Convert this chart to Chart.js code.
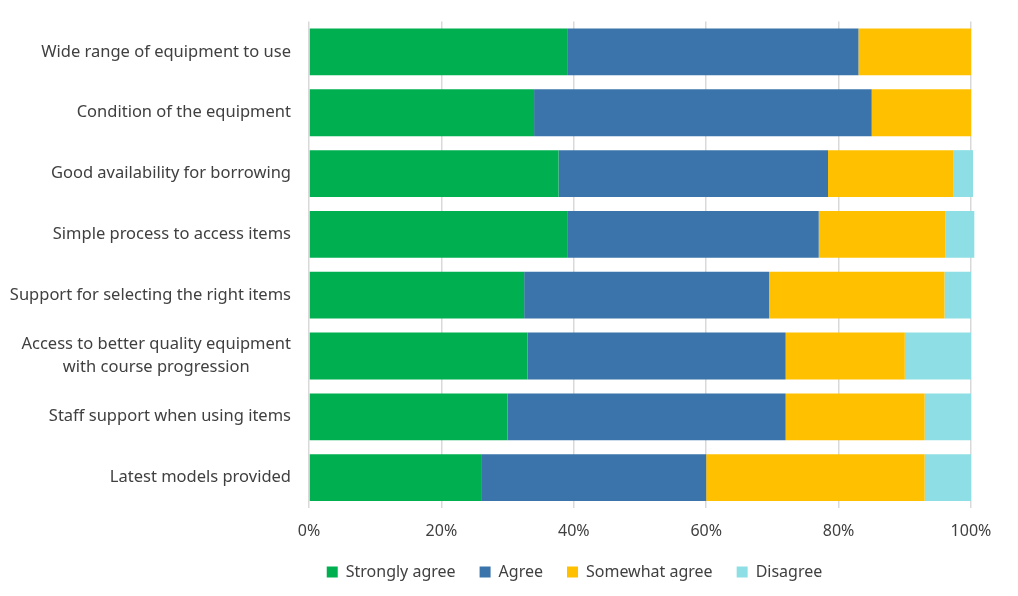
<!DOCTYPE html>
<html>
<head>
<meta charset="utf-8">
<script src="https://cdn.jsdelivr.net/npm/chart.js@4"></script>
<style>
  html, body { margin: 0; padding: 0; background: #fff; }
  #wrap { width: 1018px; height: 596px; }
</style>
</head>
<body>
<div id="wrap"><canvas id="surveyChart"></canvas></div>
<script>
const categories = [
  'Wide range of equipment to use',
  'Condition of the equipment',
  'Good availability for borrowing',
  'Simple process to access items',
  'Support for selecting the right items',
  ['Access to better quality equipment', 'with course progression\u2002\u2002\u2002\u2002\u2002'],
  'Staff support when using items',
  'Latest models provided'
];
const stronglyAgree = [39, 34, 37.7, 39, 32.5, 33, 30, 26];
const agree = [44, 51, 40.7, 38, 37, 39, 42, 34];
const somewhatAgree = [17, 15, 18.9, 19.1, 26.5, 18, 21, 33];
const disagree = [0, 0, 3, 4.4, 4, 10, 7, 7];
const xTicks = [0, 20, 40, 60, 80, 100];

const textColor = '#404040';
const fontFamily = '"Noto Sans", sans-serif';

// the legend in the reference sits a bit right of centre
const legendShift = {
  id: 'legendShift',
  afterLayout(chart) {
    const lg = chart.legend;
    if (!lg) return;
    lg.left += 93;
    lg.right += 93;
  }
};

new Chart('surveyChart', {
  type: 'bar',
  data: {
    labels: categories,
    datasets: [
      { label: 'Strongly agree', data: stronglyAgree, backgroundColor: '#00b050' },
      { label: 'Agree', data: agree, backgroundColor: '#3b74aa' },
      { label: 'Somewhat agree', data: somewhatAgree, backgroundColor: '#ffc000' },
      { label: 'Disagree', data: disagree, backgroundColor: '#8edfe5' }
    ].map((d) => ({ ...d, barPercentage: 0.77, categoryPercentage: 1, clip: false }))
  },
  options: {
    indexAxis: 'y',
    responsive: true,
    maintainAspectRatio: false,
    animation: false,
    layout: { padding: { left: 0, right: 47, top: 15, bottom: 6 } },
    scales: {
      x: {
        stacked: true,
        min: 0,
        max: 100,
        afterBuildTicks: (scale) => { scale.ticks = xTicks.map((v) => ({ value: v })); },
        afterFit: (scale) => { scale.height = 40; },
        grid: { color: '#d9d9d9', lineWidth: 1.5, drawTicks: false },
        border: { display: false },
        ticks: {
          padding: 14,
          color: textColor,
          font: { family: fontFamily, size: 16 },
          callback: (v) => v + '%'
        }
      },
      y: {
        stacked: true,
        afterFit: (scale) => { scale.width = 309; },
        grid: { display: false },
        border: { display: false },
        ticks: {
          padding: 10,
          color: textColor,
          font: { family: fontFamily, size: 16.5, lineHeight: 1.4 }
        }
      }
    },
    plugins: {
      tooltip: { enabled: false },
      legend: {
        position: 'bottom',
        labels: {
          boxWidth: 11,
          boxHeight: 11,
          padding: 16,
          color: textColor,
          font: { family: fontFamily, size: 16 },
          generateLabels: (chart) =>
            Chart.defaults.plugins.legend.labels.generateLabels(chart)
              .map((item) => ({ ...item, text: item.text + '\u2002' }))
        }
      }
    }
  },
  plugins: [legendShift]
});
</script>
</body>
</html>
